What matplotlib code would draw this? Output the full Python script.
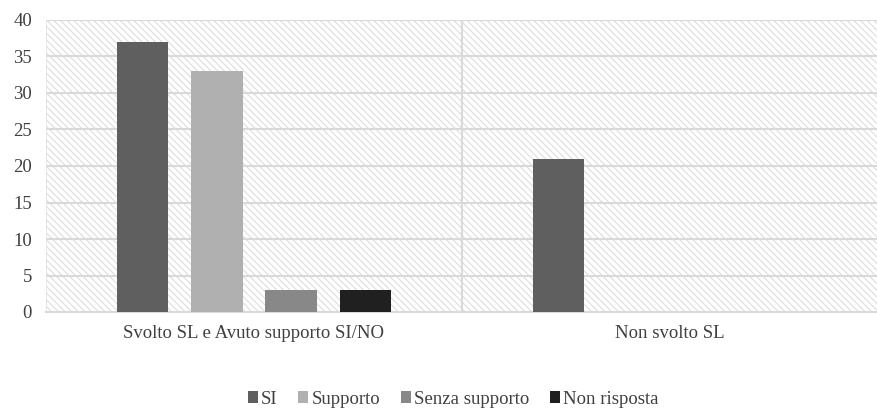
import matplotlib.pyplot as plt
from matplotlib.patches import Rectangle
import numpy as np

categories = ["Svolto SL e Avuto supporto SI/NO", "Non svolto SL"]
series_names = ["SI", "Supporto", "Senza supporto", "Non risposta"]
si = [37, 21]
supporto = [33, 0]
senza_supporto = [3, 0]
non_risposta = [3, 0]
colors = ["#5f5f5f", "#b0b0b0", "#888888", "#202020"]

plt.rcParams['font.family'] = ['Liberation Serif', 'DejaVu Serif']
plt.rcParams['hatch.linewidth'] = 0.8

fig = plt.figure(figsize=(8.78, 4.09), dpi=100)
ax = fig.add_axes([46/878, 1-312/409, 1-46/878, (312-20)/409])

# hatched background
bg = Rectangle((0, 0), 1, 1, transform=ax.transAxes, facecolor="white",
               edgecolor="#dddddd", hatch="\\" * 5, lw=0, zorder=0)
ax.add_patch(bg)
ax.set_facecolor("white")

x = np.arange(len(categories))
width = 0.124
step = 0.179
vals = [si, supporto, senza_supporto, non_risposta]
for i, (name, v, c) in enumerate(zip(series_names, vals, colors)):
    ax.bar(x + (i - 1.5) * step, v, width, color=c, label=name, zorder=3)

ax.set_xlim(-0.5, 1.5)
ax.set_ylim(0, 40)
ax.set_yticks(range(0, 41, 5))
ax.set_xticks(x)
ax.set_xticklabels(categories)

for yv in range(5, 41, 5):
    ax.axhline(yv, color="#d9d9d9", lw=1.5, zorder=1)
ax.axvline(0.5, color="#d9d9d9", lw=1.5, zorder=1)

for s in ax.spines.values():
    s.set_visible(False)
ax.spines['bottom'].set_visible(True)
ax.spines['bottom'].set_color("#d9d9d9")
ax.spines['bottom'].set_linewidth(1.5)
ax.axvline(-0.5, color="#e3e3e3", lw=1.2, zorder=1)

ax.tick_params(axis='both', length=0, labelsize=13.5, colors="#404040")
ax.tick_params(axis='x', pad=9)
ax.tick_params(axis='y', pad=10)

fig.legend(loc='center', bbox_to_anchor=(453/878, 1-399/409), ncol=4,
           frameon=False, fontsize=13.5, handlelength=0.55, handleheight=0.55,
           handletextpad=0.15, columnspacing=1.1, labelcolor="#404040")

fig.savefig("out.png", dpi=100)
